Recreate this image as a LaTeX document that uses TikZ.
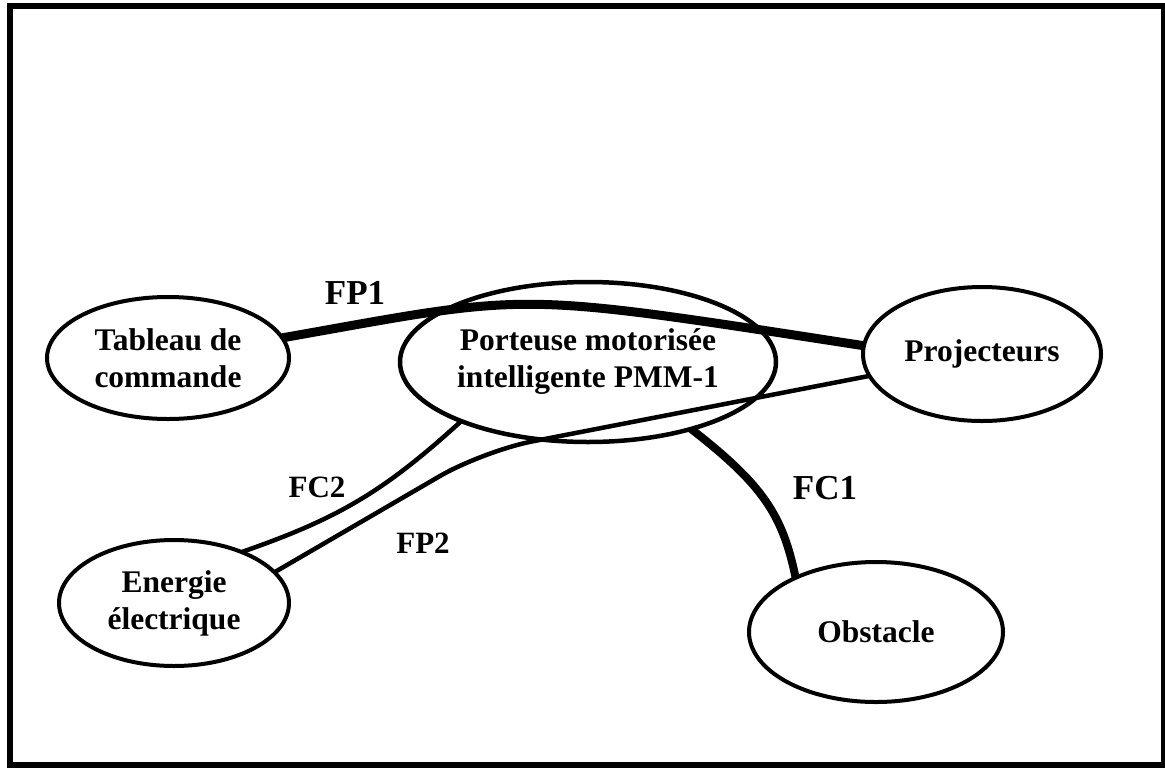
\documentclass[tikz,border=0pt]{standalone}
\usepackage{fontspec}
\setmainfont{Liberation Serif}
\usetikzlibrary{shapes.geometric}
\begin{document}
\begin{tikzpicture}[x=1pt,y=-1pt,
  box/.style={ellipse, draw, line width=4pt, inner sep=0pt, outer sep=0pt, align=center,
    font=\fontsize{31.5}{37}\selectfont\bfseries},
  lab/.style={inner sep=0pt, font=\fontsize{31}{37}\selectfont\bfseries},
  biglab/.style={inner sep=0pt, font=\fontsize{35}{40}\selectfont\bfseries},
  linkthin/.style={line width=4.5pt},
  linkthick/.style={line width=9pt},
  linkmid/.style={line width=8pt}]
\useasboundingbox (0,0) rectangle (1165,769);
\draw[line width=6pt] (10,6) rectangle (1164,765);

\node[box, minimum width=242pt, minimum height=122pt] (tab) at (168,358) {Tableau de\\commande};
\node[box, line width=4.5pt, minimum width=376pt, minimum height=160pt] (por) at (588,362) {Porteuse motorisée\\intelligente PMM-1};
\node[box, minimum width=238pt, minimum height=134pt] (proj) at (982,354) {Projecteurs};
\node[box, minimum width=230pt, minimum height=126pt] (ene) at (174,603) {Energie\\électrique};
\node[box, minimum width=254pt, minimum height=140pt] (obs) at (876,632) {Obstacle};

\draw[linkthick] (tab.10) .. controls +(254,-45) and +(-357,-55) .. (proj.176);
\draw[linkthin, rounded corners=50pt] (ene.17) -- (483,451) -- (proj.191);
\draw[linkthin] (ene.37) .. controls +(98,-34) and +(-77,70) .. (por.205);
\draw[linkmid] (por.327) .. controls +(72,56) and +(-13,-63) .. (obs.146);

\node[biglab] (fp1) at (355,293) {FP1};
\node[biglab] (fc1) at (825,488) {FC1};
\node[lab] (fc2) at (317,487) {FC2};
\node[lab] (fp2) at (423,543) {FP2};
\end{tikzpicture}
\end{document}
